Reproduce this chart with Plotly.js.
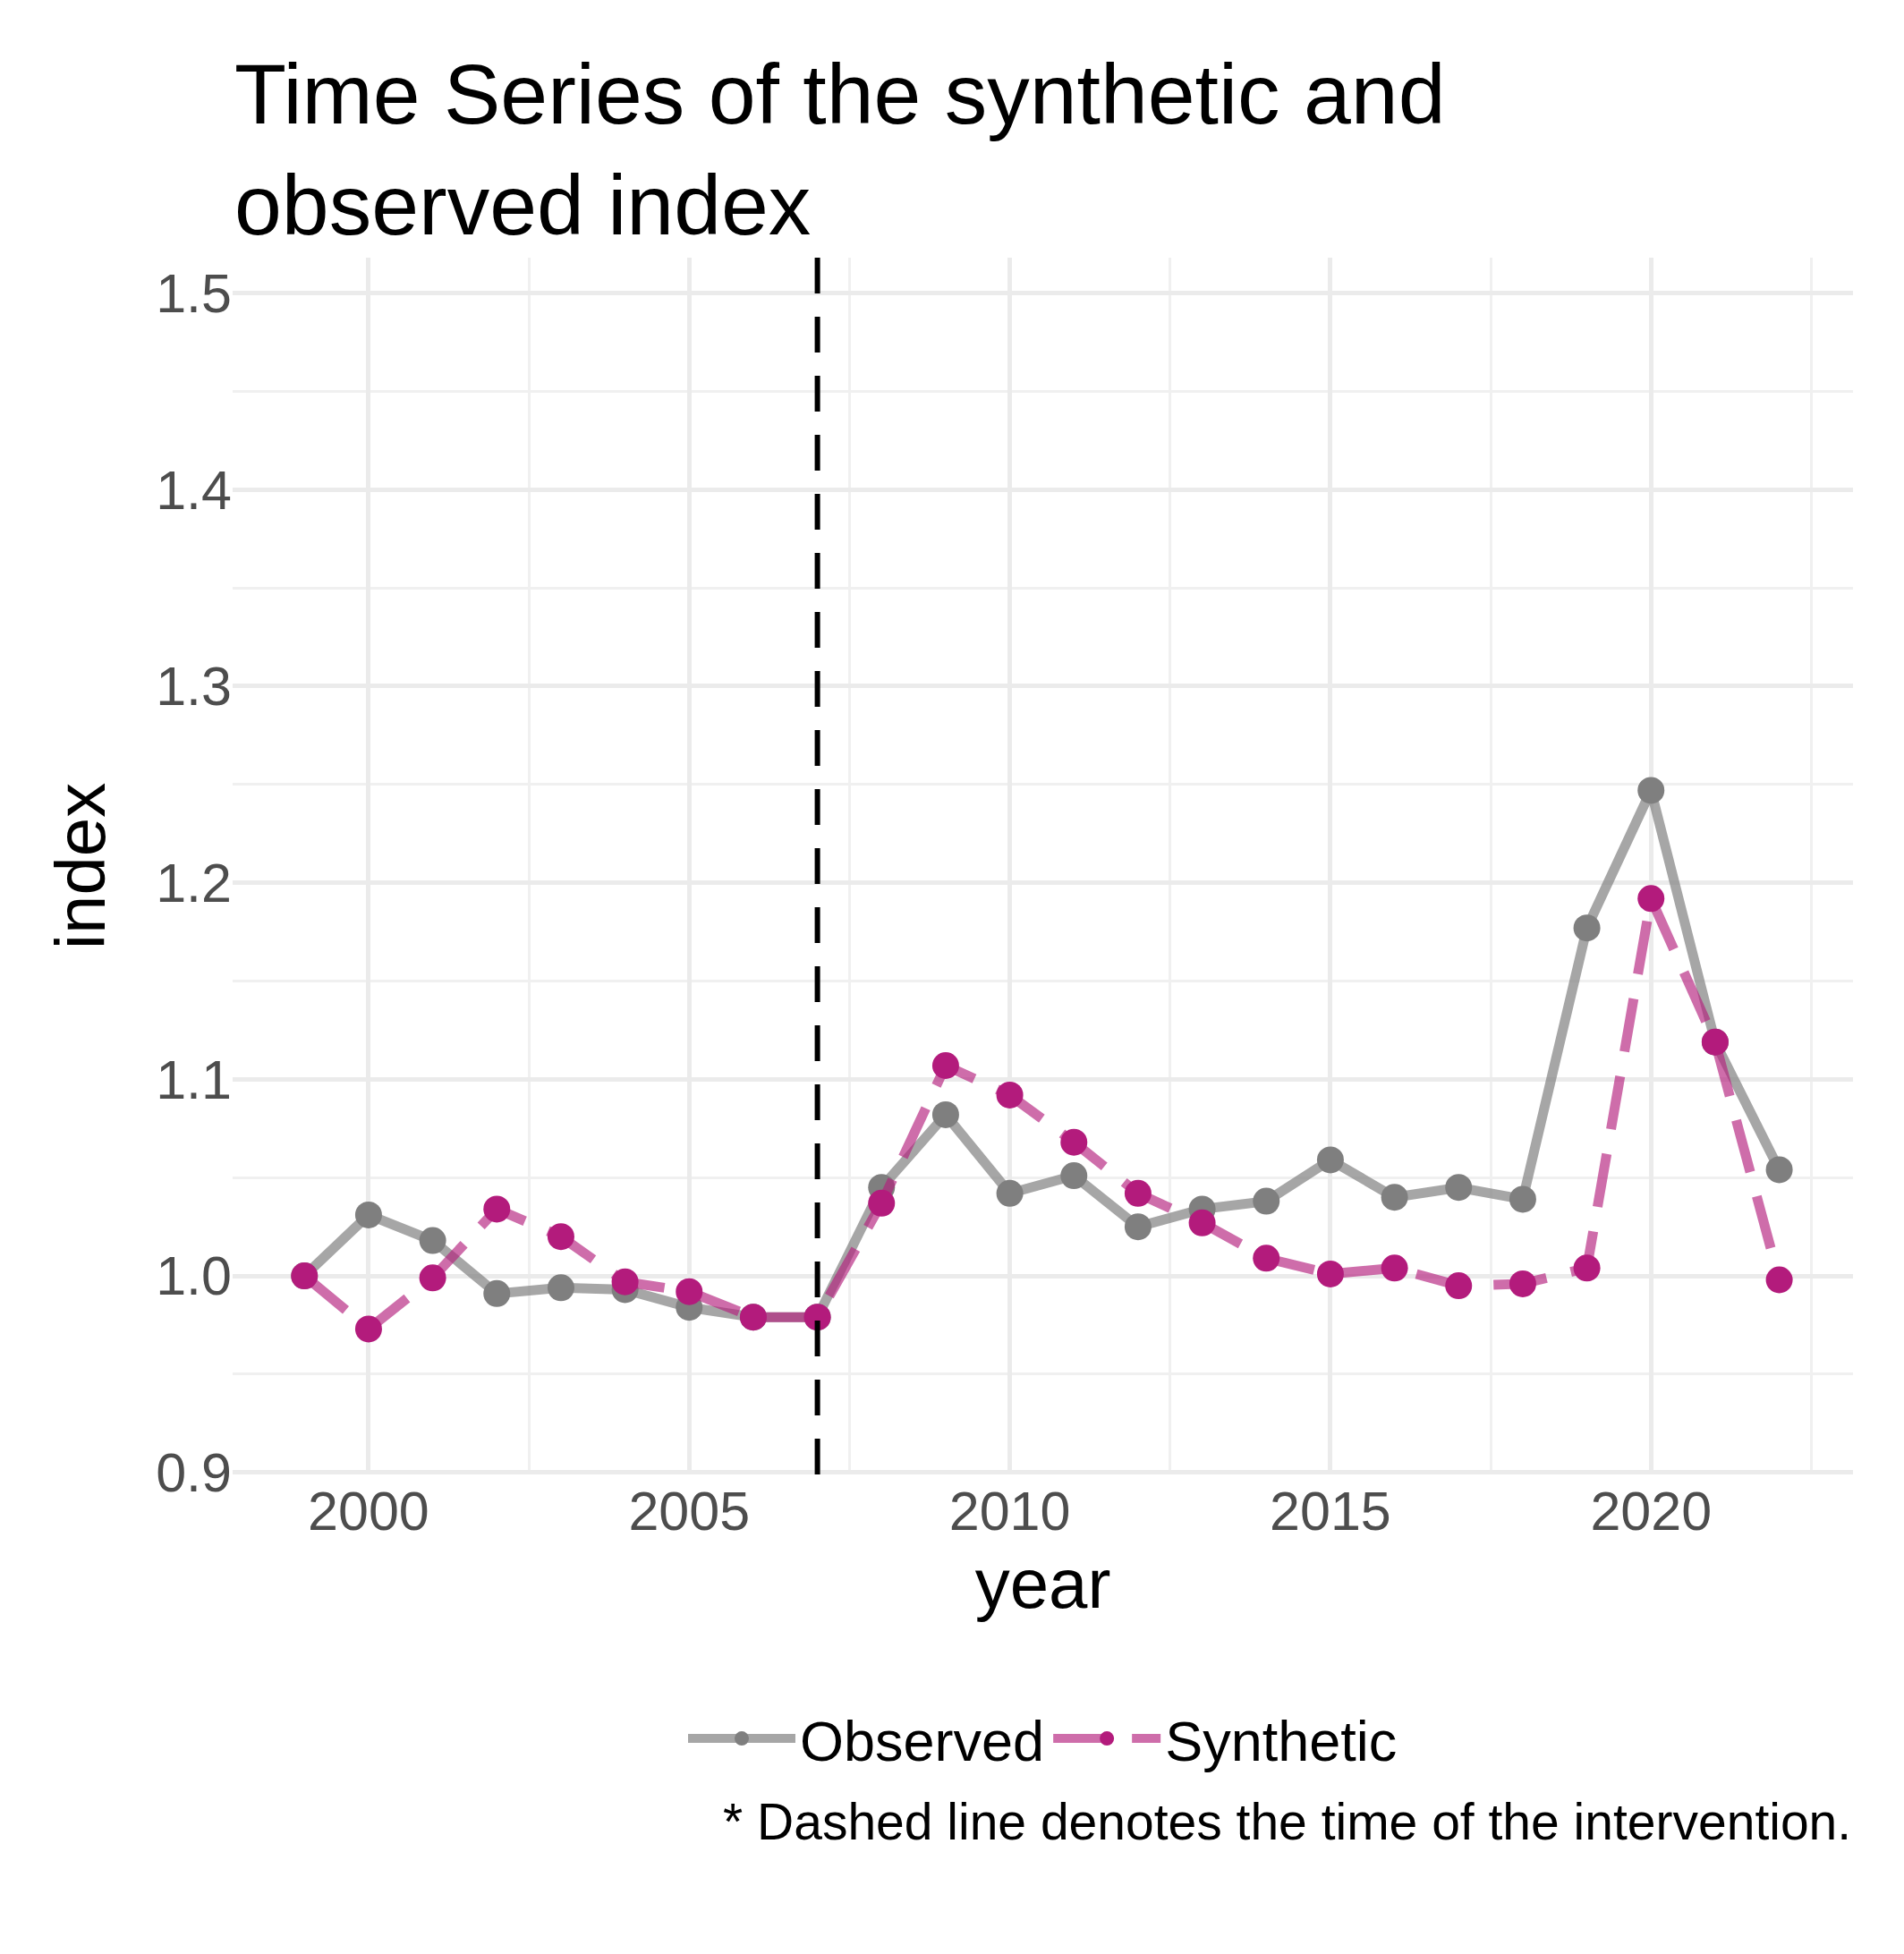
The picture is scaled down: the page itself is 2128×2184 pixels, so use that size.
<!DOCTYPE html>
<html><head><meta charset="utf-8">
<script src="https://cdn.plot.ly/plotly-3.0.1.min.js"></script>
<style>body{margin:0;background:#fff}</style></head>
<body><div id="chart" style="width:2128px;height:2184px"></div>
<script>
var years = [1999,2000,2001,2002,2003,2004,2005,2006,2007,2008,2009,2010,2011,2012,2013,2014,2015,2016,2017,2018,2019,2020,2021,2022];
var observed = [1.000,1.031,1.018,0.991,0.994,0.993,0.984,0.979,0.979,1.045,1.082,1.042,1.051,1.025,1.034,1.038,1.059,1.040,1.045,1.039,1.177,1.247,1.119,1.054];
var synthetic = [1.000,0.973,0.999,1.034,1.020,0.997,0.992,0.979,0.979,1.037,1.107,1.092,1.068,1.042,1.027,1.009,1.001,1.004,0.995,0.996,1.004,1.192,1.119,0.998];
var interventionYear = 2007;

var font = 'Liberation Sans, Arial, sans-serif';
var data = [
  { x: years, y: observed, mode: 'lines+markers', name: 'Observed',
    line: { color: 'rgba(128,128,128,0.7)', width: 11 },
    marker: { color: '#7f7f7f', size: 30 } },
  { x: years, y: synthetic, mode: 'lines+markers', name: 'Synthetic',
    line: { color: 'rgba(180,30,125,0.65)', width: 11, dash: '60px,28px' },
    marker: { color: '#b31b7c', size: 30 } }
];

var layout = {
  width: 2128, height: 2184,
  paper_bgcolor: '#fff', plot_bgcolor: '#fff',
  margin: { l: 260, r: 57, t: 288, b: 536 },
  font: { family: font, color: '#000' },
  xaxis: {
    range: [1997.88, 2023.15], tickvals: [2000,2005,2010,2015,2020], showline: false, zeroline: false,
    gridcolor: '#ebebeb', gridwidth: 5, ticks: '', ticklen: 8,
    minor: { tickvals: [1997.5,2002.5,2007.5,2012.5,2017.5,2022.5], showgrid: true, gridcolor: '#f0f0f0', gridwidth: 3 },
    tickfont: { size: 61, color: '#4d4d4d' },
    title: { text: 'year', font: { size: 78 }, standoff: 20 }
  },
  yaxis: {
    range: [0.899, 1.518], tickvals: [0.9,1.0,1.1,1.2,1.3,1.4,1.5], ticktext: ['0.9','1.0','1.1','1.2','1.3','1.4','1.5'],
    showline: false, zeroline: false, gridcolor: '#ebebeb', gridwidth: 5, ticks: '',
    minor: { tickvals: [0.95,1.05,1.15,1.25,1.35,1.45], showgrid: true, gridcolor: '#f0f0f0', gridwidth: 3 },
    tickfont: { size: 61, color: '#4d4d4d' },
    title: { text: 'index', font: { size: 78 }, standoff: 30 }
  },
  shapes: [{ type: 'line', xref: 'x', yref: 'paper', x0: interventionYear, x1: interventionYear, y0: 0, y1: 1,
    line: { color: '#000', width: 6, dash: '40px,26px' } }],
  showlegend: true,
  legend: { orientation: 'h', x: 0.5, xanchor: 'center', y: -0.217, yanchor: 'middle', font: { size: 63 }, itemwidth: 120 },
  annotations: [
    { text: 'Time Series of the synthetic and<br>observed index', xref: 'paper', yref: 'paper', x: 0, xanchor: 'left',
      y: 1.175, yanchor: 'top', align: 'left', showarrow: false, font: { size: 95 } },
    { text: '* Dashed line denotes the time of the intervention.', xref: 'paper', yref: 'paper',
      x: 1, xanchor: 'right', y: -0.285, yanchor: 'middle', showarrow: false, font: { size: 57 } }]
};
Plotly.newPlot('chart', data, layout, { staticPlot: true });
</script></body></html>
